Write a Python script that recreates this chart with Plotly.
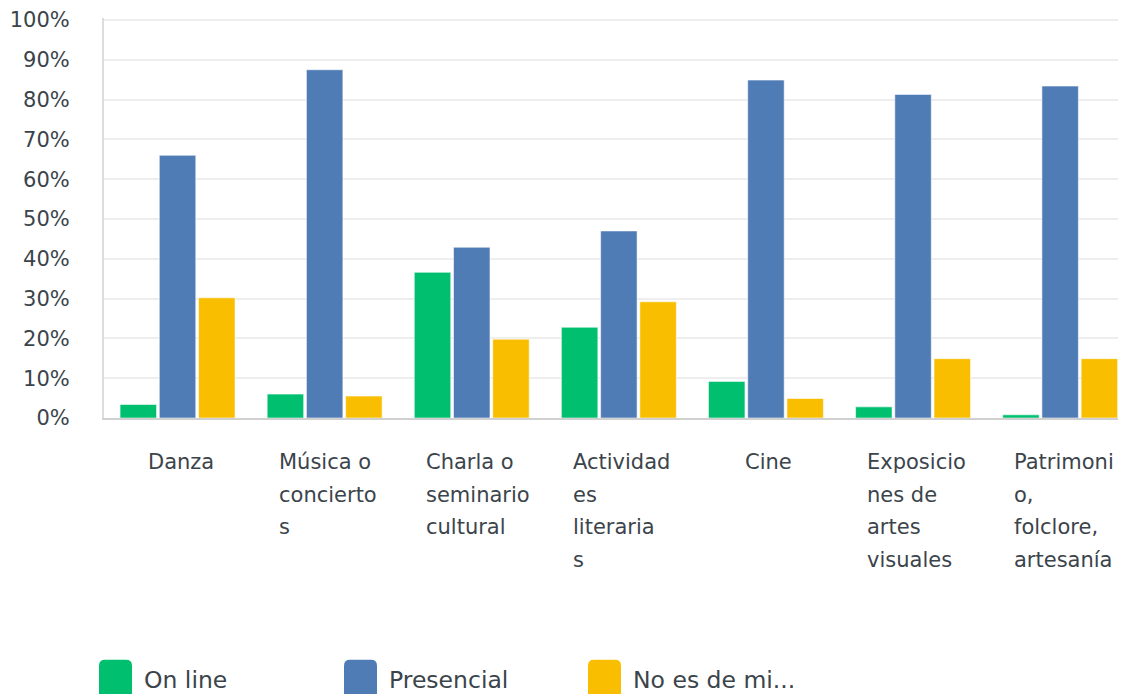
import plotly.graph_objects as go

categories = ["Danza", "Música o conciertos", "Charla o seminario cultural",
              "Actividades literarias", "Cine", "Exposiciones de artes visuales",
              "Patrimonio, folclore, artesanía"]
tick_label_lines = [
    ["Danza"],
    ["Música o", "concierto", "s"],
    ["Charla o", "seminario", "cultural"],
    ["Actividad", "es", "literaria", "s"],
    ["Cine"],
    ["Exposicio", "nes de", "artes", "visuales"],
    ["Patrimoni", "o,", "folclore,", "artesanía"],
]
series_names = ["On line", "Presencial", "No es de mi..."]
online = [3.4, 6.0, 36.6, 22.8, 9.2, 2.8, 0.8]
presencial = [66.0, 87.5, 42.9, 47.0, 84.9, 81.3, 83.4]
no_es = [30.2, 5.5, 19.8, 29.2, 4.9, 14.9, 14.9]
y_tick_values = [0, 10, 20, 30, 40, 50, 60, 70, 80, 90, 100]

colors = ["#00BF6F", "#507CB6", "#F9BE00"]
series_values = [online, presencial, no_es]
FONT = "DejaVu Sans"
TXT = "#3b444b"
FS = 21
LFS = 23.5

# page body margin offsets the figure by 8px and limits its width to 1110px;
# all positions below are in reference-page pixels
OFF = 8
W, H = 1126 - 2 * OFF, 694 - OFF
PLOT_L, PLOT_R, PLOT_T, PLOT_B = 104, OFF + W, 16, 418
CAT_W = 147.1
ML = PLOT_L - OFF
MR = (W + OFF) - PLOT_R
MT = PLOT_T - OFF
MB = (H + OFF) - PLOT_B
PW = PLOT_R - PLOT_L
PH = PLOT_B - PLOT_T

fig = go.Figure()
for name, vals, col in zip(series_names, series_values, colors):
    fig.add_trace(go.Bar(
        x=list(range(len(categories))), y=vals, name=name,
        marker=dict(color=col, line=dict(color="rgba(255,255,255,0.55)", width=1)),
        hovertext=categories, showlegend=False,
    ))

annotations = []
def py(p):
    return (PLOT_B - p) / PH
def px(p):
    return (p - PLOT_L) / PW

for i, lines in enumerate(tick_label_lines):
    for j, line in enumerate(lines):
        single = len(lines) == 1
        annotations.append(dict(
            x=i, xref="x", y=py(462 + 33 * j), yref="paper",
            text=line, showarrow=False,
            xanchor="center" if single else "left",
            xshift=3 if single else -48,
            yanchor="middle",
            font=dict(family=FONT, size=FS, color=TXT),
        ))

shapes = []
legend_x = [99, 344, 588]
for k, (name, col) in enumerate(zip(series_names, colors)):
    x0, x1 = legend_x[k], legend_x[k] + 33
    y0, y1 = 661, 700
    r = 6
    path = (f"M {px(x0 + r)} {py(y0)} L {px(x1 - r)} {py(y0)} "
            f"Q {px(x1)} {py(y0)} {px(x1)} {py(y0 + r)} "
            f"L {px(x1)} {py(y1 - r)} Q {px(x1)} {py(y1)} {px(x1 - r)} {py(y1)} "
            f"L {px(x0 + r)} {py(y1)} Q {px(x0)} {py(y1)} {px(x0)} {py(y1 - r)} "
            f"L {px(x0)} {py(y0 + r)} Q {px(x0)} {py(y0)} {px(x0 + r)} {py(y0)} Z")
    shapes.append(dict(type="path", path=path, xref="paper", yref="paper",
                       fillcolor=col, line=dict(width=0), layer="above"))
    annotations.append(dict(
        x=px(x1 + 10), xref="paper", y=py(681), yref="paper",
        text=name, showarrow=False, xanchor="left", yanchor="middle",
        font=dict(family=FONT, size=LFS, color=TXT),
    ))

fig.update_layout(
    width=W, height=H,
    margin=dict(l=ML, r=MR, t=MT, b=MB, pad=0),
    paper_bgcolor="white", plot_bgcolor="white",
    barmode="group", bargap=0.2, bargroupgap=0.07,
    font=dict(family=FONT, size=FS, color=TXT),
    showlegend=False,
    annotations=annotations, shapes=shapes,
    xaxis=dict(
        range=[-0.5, -0.5 + PW / CAT_W], showticklabels=False,
        showgrid=False, showline=True, linecolor="#d0d0d0", linewidth=2,
        zeroline=False, fixedrange=True,
    ),
    yaxis=dict(
        range=[0, 100.5], tickvals=y_tick_values,
        ticktext=[f"{v}%" for v in y_tick_values],
        showgrid=True, gridcolor="#eeeeee", gridwidth=2,
        showline=True, linecolor="#dcdcdc", linewidth=2,
        zeroline=False, ticks="", ticklabelstandoff=28,
        ticklabeloverflow="allow",
        tickfont=dict(family=FONT, size=FS, color=TXT),
        fixedrange=True,
    ),
)

fig.write_html("out.html")
